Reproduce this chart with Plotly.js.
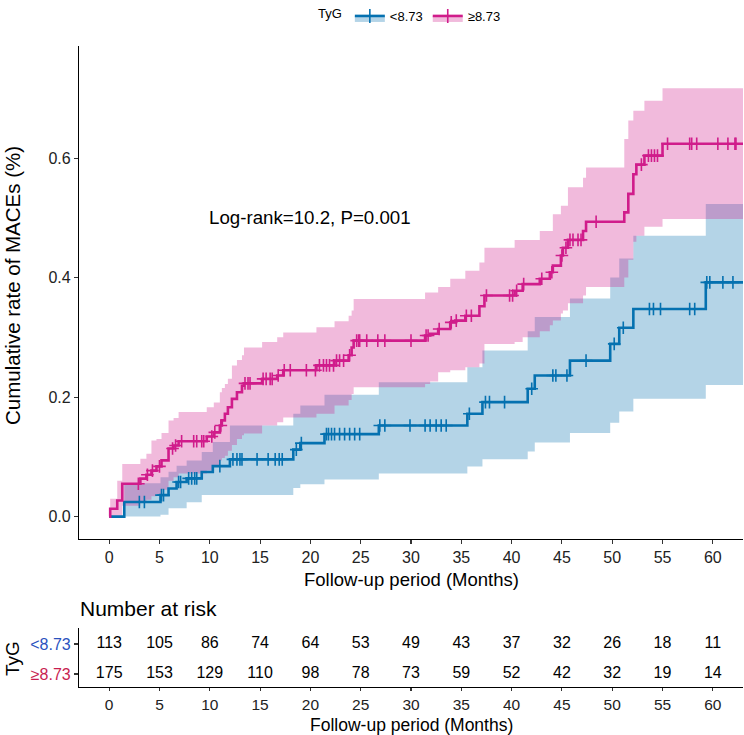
<!DOCTYPE html>
<html>
<head>
<meta charset="utf-8">
<script src="https://cdn.plot.ly/plotly-3.0.1.min.js"></script>
<style>html,body{margin:0;padding:0;background:#fff;}#chart{width:744px;height:735px;}</style>
</head>
<body>
<div id="chart"></div>
<script>
// ---------- DATA ----------
const groupLabels = ['<8.73', '\u22658.73'];
const legendTitle = 'TyG';

// <8.73 : event times, cumulative incidence, lower and upper 95% CI
const lowTime  = [0, 1.5, 5.1, 5.9, 6.7, 7.7, 9.2, 10.3, 12.0, 18.3, 19.0, 21.4, 26.8, 35.6, 37.1, 41.6, 42.3, 45.8, 49.8, 50.7, 52.1, 59.3];
const lowEst   = [0, 0.0245, 0.036, 0.047, 0.058, 0.064, 0.0745, 0.0845, 0.0957, 0.112, 0.123, 0.138, 0.1525, 0.172, 0.1915, 0.214, 0.236, 0.261, 0.289, 0.316, 0.3475, 0.392];
const lowLower = [0, 0.0, 0.003, 0.014, 0.014, 0.024, 0.036, 0.036, 0.036, 0.048, 0.054, 0.062, 0.072, 0.084, 0.096, 0.109, 0.124, 0.140, 0.157, 0.176, 0.197, 0.22];
const lowUpper = [0, 0.056, 0.066, 0.075, 0.085, 0.094, 0.108, 0.125, 0.1525, 0.172, 0.186, 0.204, 0.225, 0.25, 0.278, 0.31, 0.334, 0.365, 0.40, 0.432, 0.47, 0.523];
const lowCensor = [3.0, 3.5, 5.2, 5.4, 6.9, 7.1, 7.9, 8.2, 8.5, 8.7, 11.0, 12.3, 12.7, 13.0, 13.2, 14.7, 15.8, 16.5, 16.9, 17.2, 18.6, 19.1, 21.6, 21.8, 22.1, 22.4, 22.9, 23.4, 23.9, 24.4, 24.9, 26.9, 27.4, 29.9, 31.4, 31.9, 32.5, 33.0, 33.5, 35.8, 37.4, 37.8, 39.3, 42.0, 44.1, 44.4, 45.5, 47.4, 50.2, 51.1, 53.7, 54.1, 54.8, 57.7, 58.2, 59.4, 59.7, 61.0, 62.0];

// >=8.73
const highTime  = [0, 0.1, 0.8, 1.3, 3.1, 3.7, 4.2, 4.7, 5.2, 5.9, 6.4, 6.9, 9.7, 10.4, 11.0, 11.2, 11.5, 11.8, 12.2, 12.7, 13.2, 13.4, 15.2, 16.7, 17.3, 20.6, 22.4, 23.8, 24.1, 24.3, 31.4, 31.9, 32.7, 33.9, 34.4, 35.4, 36.8, 37.3, 40.3, 41.1, 42.8, 43.8, 44.1, 44.9, 45.1, 45.6, 47.1, 47.4, 51.2, 51.6, 52.1, 52.4, 53.2, 55.0];
const highEst   = [0, 0.013, 0.027, 0.055, 0.0635, 0.070, 0.077, 0.084, 0.094, 0.114, 0.119, 0.126, 0.134, 0.141, 0.1525, 0.161, 0.172, 0.183, 0.197, 0.208, 0.219, 0.223, 0.2305, 0.236, 0.245, 0.253, 0.261, 0.27, 0.283, 0.2945, 0.303, 0.306, 0.314, 0.325, 0.328, 0.336, 0.352, 0.37, 0.378, 0.389, 0.398, 0.409, 0.42, 0.437, 0.45, 0.463, 0.478, 0.4935, 0.509, 0.54, 0.573, 0.589, 0.604, 0.624];
const highLower = [0, 0, 0, 0.018, 0.024, 0.028, 0.034, 0.038, 0.045, 0.06, 0.066, 0.072, 0.077, 0.084, 0.094, 0.098, 0.102, 0.11, 0.12, 0.13, 0.136, 0.139, 0.1525, 0.158, 0.166, 0.172, 0.186, 0.195, 0.205, 0.2165, 0.222, 0.226, 0.2415, 0.245, 0.245, 0.25, 0.256, 0.289, 0.292, 0.30, 0.31, 0.32, 0.328, 0.34, 0.345, 0.357, 0.37, 0.384, 0.40, 0.43, 0.46, 0.47, 0.485, 0.498];
const highUpper = [0, 0.03, 0.06, 0.088, 0.097, 0.105, 0.1275, 0.13, 0.14, 0.161, 0.165, 0.175, 0.183, 0.191, 0.208, 0.215, 0.222, 0.2305, 0.253, 0.262, 0.27, 0.283, 0.292, 0.30, 0.308, 0.317, 0.327, 0.336, 0.345, 0.364, 0.375, 0.375, 0.384, 0.398, 0.398, 0.4115, 0.425, 0.45, 0.463, 0.463, 0.478, 0.478, 0.506, 0.52, 0.52, 0.551, 0.567, 0.584, 0.632, 0.663, 0.679, 0.679, 0.696, 0.717];
const highCensor = [2.9, 3.8, 4.3, 5.0, 6.3, 6.6, 7.2, 8.4, 8.7, 9.2, 9.4, 10.2, 10.5, 11.1, 13.5, 13.8, 14.0, 15.3, 15.6, 16.0, 16.2, 16.8, 17.4, 18.0, 19.6, 20.5, 20.9, 21.3, 21.6, 21.9, 22.3, 22.6, 22.9, 23.3, 23.9, 24.6, 24.8, 24.9, 25.6, 26.7, 27.4, 30.0, 31.5, 31.7, 32.8, 34.0, 34.5, 35.5, 36.0, 37.5, 39.8, 40.1, 40.5, 41.2, 43.0, 44.0, 45.0, 45.4, 45.8, 46.1, 46.6, 46.9, 48.4, 52.9, 53.6, 53.9, 54.2, 54.5, 55.5, 57.7, 57.9, 58.4, 60.5, 61.5, 62.2, 62.3];

const lastFollowUp = [64, 64];

// Number at risk table
const riskTimes = [0, 5, 10, 15, 20, 25, 30, 35, 40, 45, 50, 55, 60];
const riskLow   = [113, 105, 86, 74, 64, 53, 49, 43, 37, 32, 26, 18, 11];
const riskHigh  = [175, 153, 129, 110, 98, 78, 73, 59, 52, 42, 32, 19, 14];

const xTicks = [0, 5, 10, 15, 20, 25, 30, 35, 40, 45, 50, 55, 60];
const yTicks = [0, 0.2, 0.4, 0.6];
const logRankText = 'Log-rank=10.2, P=0.001';
const logRankPos = [20, 0.5];

// ---------- STYLE ----------
const colLow = '#0571B0', colHigh = '#D01C8B';
const fillLow = 'rgba(5,113,176,0.3)', fillHigh = 'rgba(208,28,139,0.3)';
const labLow = '#2A52BE', labHigh = '#C81E50';
const FONT = 'Liberation Sans, Arial, Helvetica, sans-serif';

const W = 744, H = 735, ML = 79, MR = 1, MT = 46, MB = 48;
const PW = W - ML - MR, PH = H - MT - MB;
const px2x = p => (p - ML) / PW;
const px2y = p => (H - MB - p) / PH;

function stepExtend(t, v, end) { return { x: t.concat([end]), y: v.concat([v[v.length - 1]]) }; }
function stepAt(t, v, q) { let r = v[0]; for (let i = 0; i < t.length; i++) { if (t[i] <= q) r = v[i]; } return r; }

const traces = [];
function bandTraces(t, lo, up, end, fill) {
  const a = stepExtend(t, lo, end), b = stepExtend(t, up, end);
  traces.push({ x: a.x, y: a.y, type: 'scatter', mode: 'lines', line: { shape: 'hv', width: 0, color: 'rgba(0,0,0,0)' }, showlegend: false, hoverinfo: 'skip', xaxis: 'x', yaxis: 'y' });
  traces.push({ x: b.x, y: b.y, type: 'scatter', mode: 'lines', line: { shape: 'hv', width: 0, color: 'rgba(0,0,0,0)' }, fill: 'tonexty', fillcolor: fill, showlegend: false, hoverinfo: 'skip', xaxis: 'x', yaxis: 'y' });
}
bandTraces(lowTime, lowLower, lowUpper, lastFollowUp[0], fillLow);
bandTraces(highTime, highLower, highUpper, lastFollowUp[1], fillHigh);

function curve(t, v, end, col) {
  const a = stepExtend(t, v, end);
  traces.push({ x: a.x, y: a.y, type: 'scatter', mode: 'lines', line: { shape: 'hv', width: 2.6, color: col }, showlegend: false, xaxis: 'x', yaxis: 'y' });
}
curve(lowTime, lowEst, lastFollowUp[0], colLow);
curve(highTime, highEst, lastFollowUp[1], colHigh);

function censor(c, t, v, col) {
  traces.push({ x: c, y: c.map(q => stepAt(t, v, q)), type: 'scatter', mode: 'markers',
    marker: { symbol: 'cross-thin-open', size: 9, color: col, line: { width: 1.6, color: col } },
    showlegend: false, xaxis: 'x', yaxis: 'y' });
}
censor(lowCensor, lowTime, lowEst, colLow);
censor(highCensor, highTime, highEst, colHigh);

// legend entries
[[groupLabels[0], colLow, fillLow], [groupLabels[1], colHigh, fillHigh]].forEach(([name, col, fc]) => {
  traces.push({ x: [null], y: [null], type: 'scatter', mode: 'lines+markers', name: name, fill: 'toself', fillcolor: fc,
    line: { color: col, width: 2.6 }, marker: { symbol: 'cross-thin-open', size: 10, color: col, line: { width: 1.6, color: col } },
    showlegend: true, xaxis: 'x', yaxis: 'y' });
});

// risk table
traces.push({ x: riskTimes, y: riskTimes.map(() => 1), text: riskLow.map(String), type: 'scatter', mode: 'text',
  textfont: { family: FONT, size: 16, color: '#000' }, showlegend: false, hoverinfo: 'skip', xaxis: 'x2', yaxis: 'y2' });
traces.push({ x: riskTimes, y: riskTimes.map(() => 0), text: riskHigh.map(String), type: 'scatter', mode: 'text',
  textfont: { family: FONT, size: 16, color: '#000' }, showlegend: false, hoverinfo: 'skip', xaxis: 'x2', yaxis: 'y2' });

const axisCommon = { showline: true, linecolor: '#000', linewidth: 1.1, ticks: 'outside', ticklen: 4, tickwidth: 1.1, tickcolor: '#333',
  showgrid: false, zeroline: false, tickfont: { family: FONT, size: 16, color: '#222' }, fixedrange: true };

function ann(text, xp, yp, size, extra) {
  return Object.assign({ text: text, x: px2x(xp), y: px2y(yp), xref: 'paper', yref: 'paper', xanchor: 'center', yanchor: 'middle',
    showarrow: false, font: { family: FONT, size: size, color: '#000' } }, extra || {});
}

const layout = {
  width: W, height: H,
  margin: { l: ML, r: MR, t: MT, b: MB, pad: 0 },
  paper_bgcolor: '#fff', plot_bgcolor: '#fff',
  font: { family: FONT, color: '#000' },
  showlegend: true,
  legend: { orientation: 'h', traceorder: 'normal', x: 0.5, xanchor: 'center', y: px2y(1), yanchor: 'top', valign: 'middle',
    font: { family: FONT, size: 13, color: '#000' },
    title: { text: legendTitle, side: 'left', font: { family: FONT, size: 13 } }, bgcolor: 'rgba(0,0,0,0)', itemwidth: 30 },
  xaxis: Object.assign({}, axisCommon, { domain: [0, 1], anchor: 'y', range: [-3, 63], tickvals: xTicks }),
  yaxis: Object.assign({}, axisCommon, { domain: [px2y(539), 1], anchor: 'x', range: [-0.0375, 0.7875], tickvals: yTicks, tickformat: '.1f' }),
  xaxis2: Object.assign({}, axisCommon, { domain: [0, 1], anchor: 'y2', range: [-3, 63], tickvals: xTicks, ticklen: 3,
    tickfont: { family: FONT, size: 15.5, color: '#222' } }),
  yaxis2: Object.assign({}, axisCommon, { domain: [0, px2y(628)], anchor: 'x2', range: [-0.433, 1.533], tickvals: [1, 0],
    ticktext: ['<span style="color:' + labLow + '">' + groupLabels[0].replace('<', '&lt;') + '</span>', '<span style="color:' + labHigh + '">' + groupLabels[1] + '</span>'] }),
  annotations: [
    { text: logRankText, x: logRankPos[0], y: logRankPos[1], xref: 'x', yref: 'y', xanchor: 'center', yanchor: 'middle', showarrow: false, font: { family: FONT, size: 18.7, color: '#000' } },
    ann('Cumulative rate of MACEs (%)', 12, 286, 20.5, { textangle: -90 }),
    ann('Follow-up period (Months)', 411, 579, 18.5),
    ann('Number at risk', 78, 608, 21, { xanchor: 'left' }),
    ann('TyG', 12, 659, 19, { textangle: -90 }),
    ann('Follow-up period (Months)', 411, 736, 17.5, { yanchor: 'bottom', borderpad: 0 })
  ]
};

Plotly.newPlot('chart', traces, layout, { staticPlot: true, displayModeBar: false });
</script>
</body>
</html>
